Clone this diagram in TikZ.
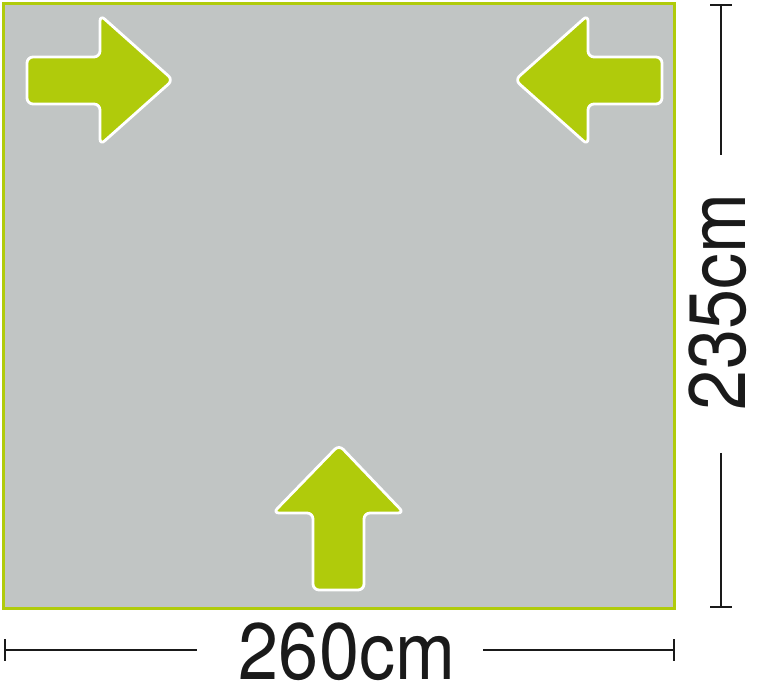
\documentclass[tikz,border=0pt]{standalone}
\usepackage{fontspec}
\setmainfont{TeX Gyre Heros}
\definecolor{floorgray}{HTML}{C1C5C4}
\definecolor{limegreen}{HTML}{B0CB0B}
\definecolor{dimblack}{HTML}{1A1A1A}
\begin{document}
\begin{tikzpicture}[x=1pt,y=1pt,
  arrowshape/.style={fill=limegreen,draw=white,line width=2.8pt,rounded corners=6pt,line join=round},
  dimline/.style={draw=dimblack,line width=2.6pt},
  dimtext/.style={font=\fontsize{80}{80}\selectfont,text=dimblack,inner sep=0pt,xscale=0.9}]
\useasboundingbox (0,0) rectangle (758,700);
% floor
\draw[fill=floorgray,draw=limegreen,line width=3pt] (3.5,91.5) rectangle (674.5,696.5);
% left arrow (pointing right)
\draw[arrowshape] (27,596) -- (27,643) -- (100,643) -- (100,685) -- (173,620) -- (100,555) -- (100,596) -- cycle;
% right arrow (pointing left)
\draw[arrowshape] (662,596) -- (662,643) -- (588,643) -- (588,685) -- (515,620) -- (588,555) -- (588,596) -- cycle;
% bottom arrow (pointing up)
\draw[arrowshape] (313,110) -- (313,187) -- (273,187) -- (339,255) -- (404,187) -- (364,187) -- (364,110) -- cycle;
% width dimension
\node[dimtext,anchor=base] (wtext) at (347,20) {260cm};
\coordinate (wl) at (5,50);
\coordinate (wr) at (674,50);
\coordinate (wlm) at (197,50);
\coordinate (wrm) at (483,50);
\draw[dimline] (wl) -- (wlm);
\draw[dimline] (wrm) -- (wr);
\draw[dimline] ([yshift=-11pt]wl) -- ([yshift=11pt]wl);
\draw[dimline] ([yshift=-11pt]wr) -- ([yshift=11pt]wr);
% height dimension
\node[rotate=90,dimtext,anchor=base] (htext) at (745,398) {235cm};
\coordinate (ht) at (721,695);
\coordinate (hb) at (721,93);
\coordinate (htm) at (721,545);
\coordinate (hbm) at (721,247);
\draw[dimline] (ht) -- (htm);
\draw[dimline] (hbm) -- (hb);
\draw[dimline] ([xshift=-11pt]ht) -- ([xshift=11pt]ht);
\draw[dimline] ([xshift=-11pt]hb) -- ([xshift=11pt]hb);
\end{tikzpicture}
\end{document}
